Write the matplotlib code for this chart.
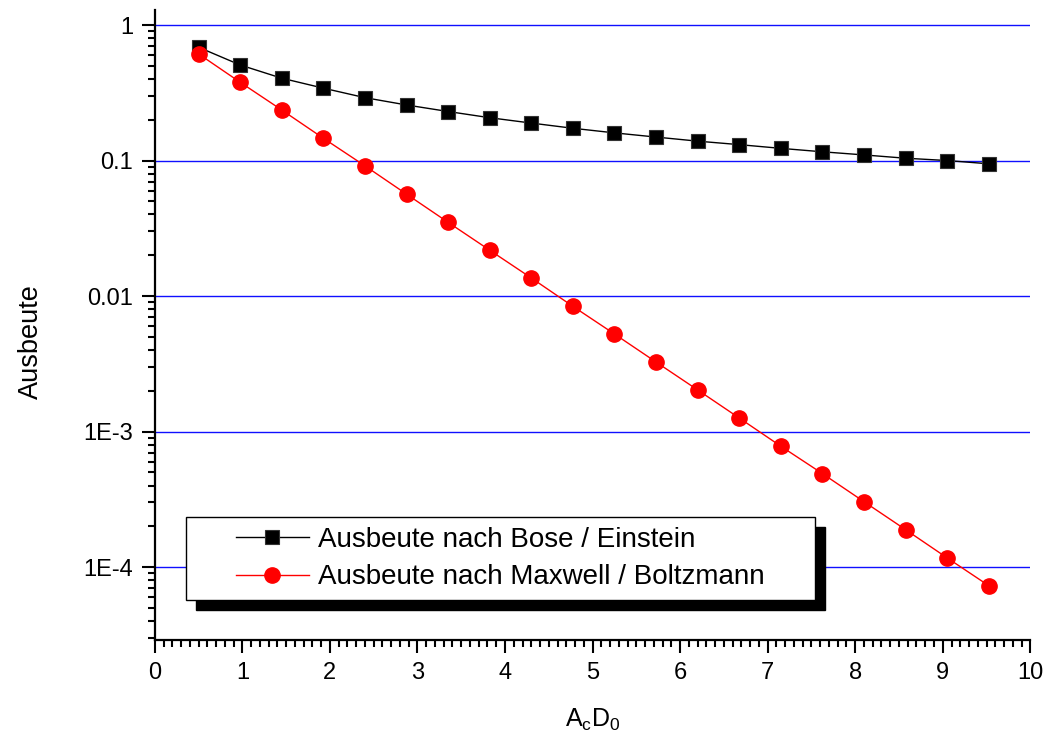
import matplotlib
matplotlib.use("Agg")
import matplotlib.pyplot as plt
from matplotlib.patches import Rectangle
from matplotlib.ticker import LogLocator, FixedLocator, FixedFormatter, MultipleLocator, NullFormatter

plt.rcParams['font.family'] = ['Liberation Sans', 'DejaVu Sans']
plt.rcParams['mathtext.fontset'] = 'custom'
plt.rcParams['mathtext.rm'] = 'Liberation Sans'
plt.rcParams['mathtext.it'] = 'Liberation Sans'

# data
x_vals = [0.50, 0.975, 1.45, 1.925, 2.40, 2.875, 3.35, 3.825, 4.30, 4.775,
          5.25, 5.725, 6.20, 6.675, 7.15, 7.625, 8.10, 8.575, 9.05, 9.525]
bose_einstein = [0.685, 0.507, 0.405, 0.342, 0.291, 0.257, 0.230, 0.207, 0.189, 0.173,
                 0.160, 0.149, 0.139, 0.131, 0.123, 0.116, 0.110, 0.104, 0.100, 0.0946]
maxwell_boltzmann = [0.612, 0.378, 0.236, 0.146, 0.0914, 0.0565, 0.0350, 0.0218, 0.0136, 0.0084,
                     0.00525, 0.00326, 0.00203, 0.00126, 0.00078, 0.00049, 0.000304, 0.000189,
                     0.000117, 0.0000730]
labels = ['Ausbeute nach Bose / Einstein', 'Ausbeute nach Maxwell / Boltzmann']
y_ticks = [1e-4, 1e-3, 1e-2, 1e-1, 1]
y_ticklabels = ['1E-4', '1E-3', '0.01', '0.1', '1']

fig = plt.figure(figsize=(10.46, 7.42), dpi=100)
ax = fig.add_axes([0.148, 0.1375, 0.837, 0.849])

ax.plot(x_vals, bose_einstein, color='black', lw=1.0, marker='s', ms=10,
        mfc='black', mec='#333333', mew=0.8, label=labels[0], zorder=3)
ax.plot(x_vals, maxwell_boltzmann, color='red', lw=1.0, marker='o', ms=11,
        mfc='red', mec='red', label=labels[1], zorder=3)

ax.set_yscale('log')
ax.set_xlim(0, 10)
ax.set_ylim(2.9e-5, 1.29)

ax.yaxis.set_major_locator(FixedLocator(y_ticks))
ax.yaxis.set_major_formatter(FixedFormatter(y_ticklabels))
ax.yaxis.set_minor_locator(LogLocator(base=10, subs=range(2, 10), numticks=20))
ax.yaxis.set_minor_formatter(NullFormatter())
ax.xaxis.set_major_locator(MultipleLocator(1))
ax.xaxis.set_minor_locator(MultipleLocator(0.1))

for s in ['top', 'right']:
    ax.spines[s].set_visible(False)
for s in ['left', 'bottom']:
    ax.spines[s].set_linewidth(1.6)

ax.tick_params(which='major', direction='out', length=9.5, width=1.5, labelsize=17, pad=6)
ax.tick_params(which='minor', direction='out', length=5, width=1.5)

ax.grid(axis='y', which='major', color='#1010ff', lw=1.0, zorder=1)
ax.set_axisbelow(True)

ax.set_ylabel('Ausbeute', fontsize=19.5)
ax.yaxis.set_label_coords(-0.127, 0.473)
ax.set_xlabel(r'$\mathregular{A_cD_0}$', fontsize=18, labelpad=17)

# legend with solid black drop shadow
fx0, fx1 = 0.0354, 0.754
fy0, fy1 = 0.0635, 0.195
dx, dy = 10 / 875, 10 / 630
ax.add_patch(Rectangle((fx0 + dx, fy0 - dy), fx1 - fx0, fy1 - fy0, transform=ax.transAxes,
                       facecolor='black', edgecolor='black', zorder=6, clip_on=False))
ax.add_patch(Rectangle((fx0, fy0), fx1 - fx0, fy1 - fy0, transform=ax.transAxes,
                       facecolor='white', edgecolor='black', lw=1.0, zorder=7, clip_on=False))
leg = ax.legend(loc='center', bbox_to_anchor=((fx0 + fx1) / 2, (fy0 + fy1) / 2),
                frameon=False, fontsize=20, handlelength=2.65, handletextpad=0.33,
                labelspacing=0.42, numpoints=1, borderaxespad=0)
leg.set_zorder(8)

fig.savefig('out.png', dpi=100)
